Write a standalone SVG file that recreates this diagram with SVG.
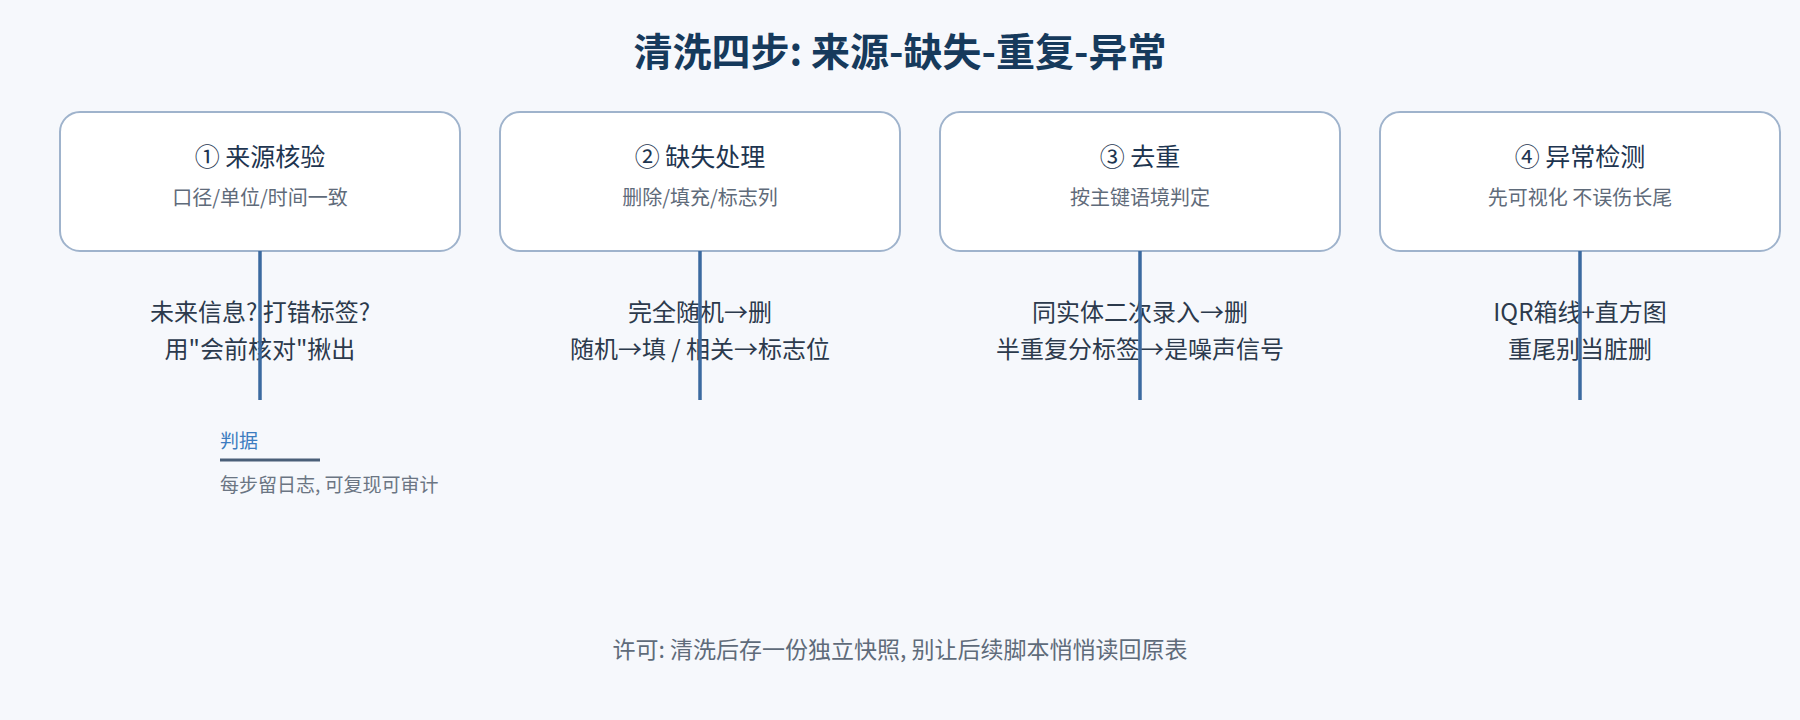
<svg xmlns="http://www.w3.org/2000/svg" width="1800" height="720" viewBox="0 0 1800 720">
<style>
text{font-family:"Noto Sans CJK SC","Noto Sans",sans-serif;text-anchor:middle}
.box{fill:#fff;stroke:#9fb3cc;stroke-width:2}
.t{font-size:25px;fill:#1e3550}
.s{font-size:20px;fill:#5f6b7a}
.m{font-size:24px;fill:#2c3a4c}
.ln{stroke:#3b6aa0;stroke-width:3.5}
</style>
<rect width="1800" height="720" fill="#f6f8fc"/>
<text x="900" y="66" font-size="39" font-weight="bold" fill="#163a5c">清洗四步: 来源-缺失-重复-异常</text>
<g id="n1"><rect class="box" x="60" y="112" width="400" height="139" rx="20"/><text class="t" x="260" y="166">① 来源核验</text><text class="s" x="260" y="205">口径/单位/时间一致</text></g>
<g id="n2"><rect class="box" x="500" y="112" width="400" height="139" rx="20"/><text class="t" x="700" y="166">② 缺失处理</text><text class="s" x="700" y="205">删除/填充/标志列</text></g>
<g id="n3"><rect class="box" x="940" y="112" width="400" height="139" rx="20"/><text class="t" x="1140" y="166">③ 去重</text><text class="s" x="1140" y="205">按主键语境判定</text></g>
<g id="n4"><rect class="box" x="1380" y="112" width="400" height="139" rx="20"/><text class="t" x="1580" y="166">④ 异常检测</text><text class="s" x="1580" y="205">先可视化 不误伤长尾</text></g>
<g id="notes">
<text class="m" x="260" y="321">未来信息? 打错标签?</text><text class="m" x="260" y="358">用"会前核对"揪出</text>
<text class="m" x="700" y="321">完全随机→删</text><text class="m" x="700" y="358">随机→填 / 相关→标志位</text>
<text class="m" x="1140" y="321">同实体二次录入→删</text><text class="m" x="1140" y="358">半重复分标签→是噪声信号</text>
<text class="m" x="1580" y="321">IQR箱线+直方图</text><text class="m" x="1580" y="358">重尾别当脏删</text>
</g>
<g id="connectors">
<line class="ln" x1="260" y1="251" x2="260" y2="400"/>
<line class="ln" x1="700" y1="251" x2="700" y2="400"/>
<line class="ln" x1="1140" y1="251" x2="1140" y2="400"/>
<line class="ln" x1="1580" y1="251" x2="1580" y2="400"/>
</g>
<g id="legend">
<text x="220" y="448" font-size="19" fill="#3d7cc0" style="text-anchor:start">判据</text>
<line x1="220" y1="460" x2="320" y2="460" stroke="#4a5f78" stroke-width="3"/>
<text x="220" y="492" font-size="19" fill="#6b7583" style="text-anchor:start">每步留日志, 可复现可审计</text>
</g>
<text x="900" y="658" font-size="23" fill="#5f6b7a">许可: 清洗后存一份独立快照, 别让后续脚本悄悄读回原表</text>
</svg>
